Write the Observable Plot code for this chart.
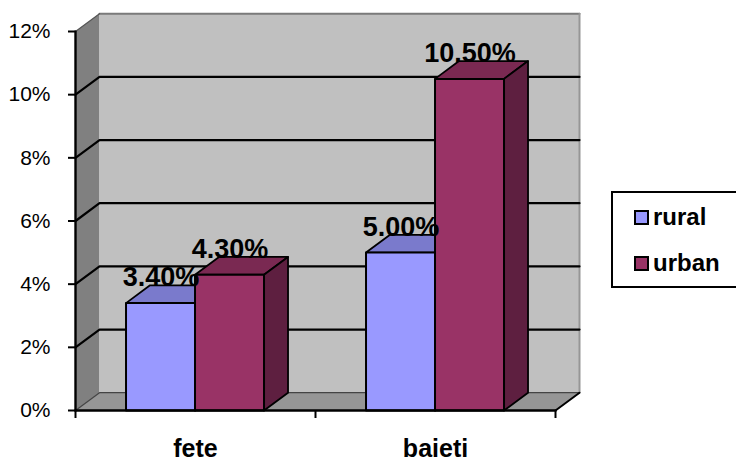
<!DOCTYPE html>
<html><head><meta charset="utf-8">
<script src="https://cdn.jsdelivr.net/npm/d3@7"></script>
<script src="https://cdn.jsdelivr.net/npm/@observablehq/plot@0.6"></script>
<style>
html,body{margin:0;padding:0;background:#fff;overflow:hidden;width:736px;height:463px;font-family:"Liberation Sans",Arial,sans-serif}
#chart{position:absolute;left:0;top:0}
#legend{position:absolute;left:611px;top:191px;width:130px;height:93px;border:2px solid #000;box-sizing:content-box;background:#fff}
.item{position:absolute;left:21px;font-weight:bold;font-size:24px;line-height:24px;color:#000;display:flex;align-items:center}
.sw{width:11px;height:11px;border:2px solid #000;margin-right:4px;display:inline-block}
</style></head><body>
<div id="chart"></div>
<div id="legend"></div>
<script>
const categories = ["fete", "baieti"];
const seriesNames = ["rural", "urban"];
const rural = [3.4, 5.0];
const urban = [4.3, 10.5];
const valueLabels = [["3.40%", "5.00%"], ["4.30%", "10.50%"]];
const yTicks = [0, 2, 4, 6, 8, 10, 12];
const xBounds = [0, 1, 2];

const depthX = 0.1, depthY = 0.563;
const barOffset = 0.2105, barWidth = 0.2875;
const frontColors = ["#9999FF", "#993366"];
const topColors = ["#7A7ACC", "#7A2952"];
const sideColors = ["#5C5C99", "#5E1F40"];

const poly = (pts, fill, stroke = "none", strokeWidth = 2) =>
  Plot.line(pts.map(([x, y]) => ({x, y})), {x: "x", y: "y", curve: "linear-closed", fill, stroke, strokeWidth});
const seg = (pts, stroke = "#000", strokeWidth = 2.2) =>
  Plot.line(pts.map(([x, y]) => ({x, y})), {x: "x", y: "y", stroke, strokeWidth});

const marks = [];
// walls and floor
marks.push(poly([[0,0],[depthX,depthY],[depthX,12+depthY],[0,12]], "#808080"));
marks.push(poly([[depthX,depthY],[2+depthX,depthY],[2+depthX,12+depthY],[depthX,12+depthY]], "#C0C0C0"));
marks.push(poly([[0,0],[2,0],[2+depthX,depthY],[depthX,depthY]], "#969696"));
// wall edges
marks.push(seg([[depthX,12+depthY],[2+depthX,12+depthY]], "#7a7a7a", 2));
marks.push(seg([[2+depthX,12+depthY],[2+depthX,depthY]], "#969696", 2));
marks.push(seg([[0,12],[depthX,12+depthY]], "#555", 1.2));
marks.push(seg([[0,0],[depthX,depthY],[2+depthX,depthY]], "#444", 1.2));
// gridlines
for (const t of yTicks.slice(1, -1)) {
  marks.push(seg([[0,t],[depthX,t+depthY],[2+depthX,t+depthY]]));
}
// bars
[rural, urban].forEach((vals, s) => {
  vals.forEach((v, c) => {
    const x0 = c + barOffset + s * barWidth, x1 = x0 + barWidth;
    marks.push(poly([[x0,v],[x0+depthX,v+depthY],[x1+depthX,v+depthY],[x1,v]], topColors[s], "#000", 1.8));
    marks.push(poly([[x1,0],[x1+depthX,depthY],[x1+depthX,v+depthY],[x1,v]], sideColors[s], "#000", 1.8));
    marks.push(poly([[x0,0],[x1,0],[x1,v],[x0,v]], frontColors[s], "#000", 2));
  });
});
// axes
marks.push(seg([[2,0],[2+depthX,depthY]], "#000", 2));
marks.push(seg([[0,0],[2,0]], "#000", 2.6));
marks.push(seg([[0,0],[0,12]], "#000", 2.4));
marks.push(Plot.axisY({ticks: yTicks, tickFormat: d => d + "%", label: null, tickSize: 7, tickPadding: 18, fontSize: 21, strokeWidth: 2, stroke: "#000", fill: "#000"}));
marks.push(Plot.axisX({ticks: xBounds, tickFormat: () => "", label: null, tickSize: 8, strokeWidth: 2, stroke: "#000"}));
// category labels
marks.push(Plot.text(categories, {
  x: (d, i) => i + 0.5, y: () => 0, text: d => d, dy: 38, fontSize: 25, fontWeight: "bold", fill: "#000", lineAnchor: "middle"
}));
// value labels
[rural, urban].forEach((vals, s) => {
  marks.push(Plot.text(vals, {
    x: (d, i) => i + barOffset + s * barWidth + barWidth / 2,
    y: d => d,
    text: (d, i) => valueLabels[s][i],
    lineAnchor: "bottom", dy: -17, dx: 0.5, fontSize: 27, fontWeight: "bold", fill: "#000"
  }));
});

const plot = Plot.plot({
  width: 736, height: 463,
  marginLeft: 75, marginRight: 181, marginTop: 31, marginBottom: 53,
  style: {fontFamily: '"Liberation Sans", Arial, sans-serif', background: "#fff", overflow: "visible"},
  x: {type: "linear", domain: [0, 2], axis: null},
  y: {type: "linear", domain: [0, 12], axis: null},
  marks
});
document.getElementById("chart").appendChild(plot);

const legend = document.getElementById("legend");
seriesNames.forEach((name, i) => {
  const it = document.createElement("div");
  it.className = "item";
  it.style.top = (i === 0 ? 12 : 58) + "px";
  const sw = document.createElement("span");
  sw.className = "sw";
  sw.style.background = frontColors[i];
  it.appendChild(sw);
  it.appendChild(document.createTextNode(name));
  legend.appendChild(it);
});
</script>
</body></html>
